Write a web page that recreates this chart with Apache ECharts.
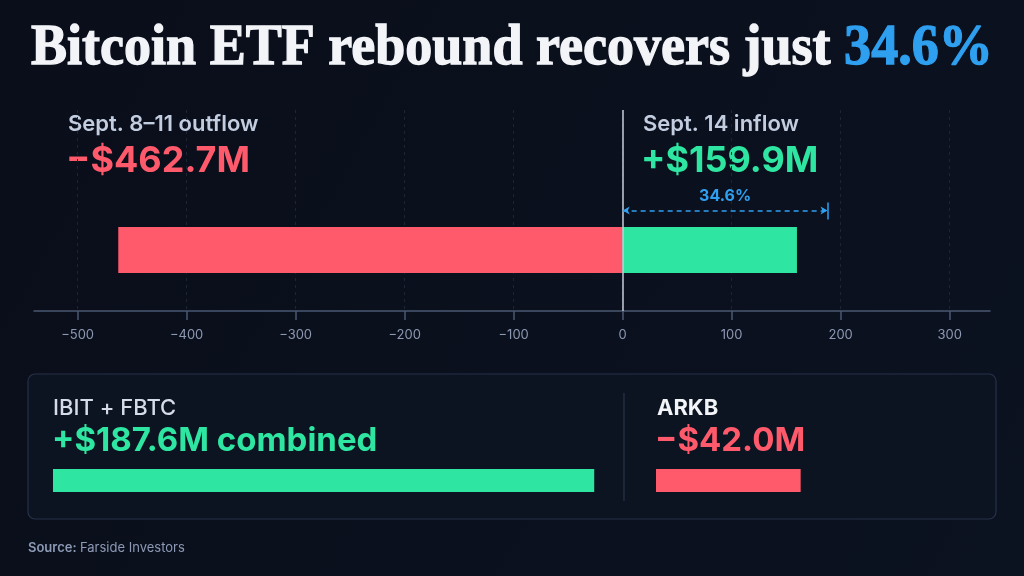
<!DOCTYPE html>
<html>
<head>
<meta charset="utf-8">
<script src="https://cdn.jsdelivr.net/npm/echarts@6/dist/echarts.min.js"></script>
<style>
html, body { margin: 0; padding: 0; background: #0a0f1b; }
#chart { width: 1024px; height: 576px; }
</style>
</head>
<body>
<div id="chart"></div>
<script>
// values
var flowLabels = ['Sept. 8–11 outflow', 'Sept. 14 inflow'];
var flowValues = [-462.7, 159.9];
var recoveryPct = 34.6;
var recoveryMark = 188;
var axisTicks = [-500, -400, -300, -200, -100, 0, 100, 200, 300];
var fundLabels = ['IBIT + FBTC', 'ARKB'];
var fundValues = [187.6, -42.0];
var fundNotes = [' combined', ''];
var source = 'Farside Investors';

var RED = '#ff5a6c';
var GREEN = '#2ee6a1';
var BLUE = '#2f9ff0';
var SANS = 'Inter, "Noto Sans", sans-serif';
var SERIF = 'bold 56px "Liberation Serif", "DejaVu Serif", serif';

function money(v) {
    var s = v < 0 ? '\u2212' : '+';
    return s + '$' + Math.abs(v).toFixed(1) + 'M';
}

var dom = document.getElementById('chart');
var myChart = echarts.init(dom);

var option = {
    backgroundColor: {
        type: 'linear', x: 0, y: 0, x2: 1, y2: 1,
        colorStops: [{ offset: 0, color: '#0a0e1a' }, { offset: 1, color: '#0b1220' }]
    },
    animation: false,
    grid: [
        { left: 34, right: 34, top: 110, bottom: 265 },   // axis + annotations
        { left: 34, right: 34, top: 227, height: 46 },    // main bars
        { left: 53, top: 469, height: 23, width: 577 },   // IBIT + FBTC
        { left: 656, top: 469, height: 23, width: 310 }   // ARKB
    ],
    xAxis: [
        {
            gridIndex: 0, type: 'value', min: -540, max: 337,
            axisLine: { show: true, lineStyle: { color: '#4a5872', width: 1.5 } },
            axisTick: { show: true, customValues: axisTicks, length: 9, lineStyle: { color: '#4a5872', width: 1.5 } },
            axisLabel: {
                customValues: axisTicks, margin: 18, color: '#8d99b2', fontSize: 13, fontFamily: SANS,
                formatter: function (v) { return String(v).replace('-', '\u2212'); }
            },
            splitLine: { show: true, lineStyle: { color: '#1c2436', type: [3, 4], width: 1 } }
        },
        { gridIndex: 1, type: 'value', min: -540, max: 337, show: false },
        { gridIndex: 2, type: 'value', min: 0, max: 200, show: false },
        { gridIndex: 3, type: 'value', min: 0, max: 90, show: false }
    ],
    yAxis: [
        { gridIndex: 0, type: 'value', min: 0, max: 1, show: false },
        { gridIndex: 1, type: 'category', data: ['Sept. flows'], show: false },
        { gridIndex: 2, type: 'category', data: [fundLabels[0]], show: false },
        { gridIndex: 3, type: 'category', data: [fundLabels[1]], show: false }
    ],
    series: [
        {
            type: 'bar', xAxisIndex: 1, yAxisIndex: 1, barWidth: 46, barGap: '-100%', z: 2,
            itemStyle: { color: RED },
            data: [flowValues[0]]
        },
        {
            type: 'bar', xAxisIndex: 1, yAxisIndex: 1, barWidth: 46, barGap: '-100%', z: 2,
            itemStyle: { color: GREEN },
            data: [flowValues[1]]
        },
        {
            type: 'line', xAxisIndex: 0, yAxisIndex: 0, z: 10, showSymbol: false,
            data: [],
            markLine: {
                silent: true,
                animation: false,
                symbol: ['none', 'none'],
                data: [
                    {
                        xAxis: 0,
                        lineStyle: { color: '#c9ced8', width: 1.5, type: 'solid' },
                        label: { show: false }
                    },
                    [
                        {
                            coord: [0, 0.5], symbol: 'arrow', symbolSize: [6, 7],
                            lineStyle: { color: BLUE, width: 1.5, type: [5, 4] },
                            label: {
                                show: true, position: 'middle', formatter: recoveryPct.toFixed(1) + '%',
                                color: BLUE, fontSize: 16, fontWeight: 'bold', fontFamily: SANS, distance: 6
                            }
                        },
                        { coord: [recoveryMark, 0.5], symbol: 'arrow', symbolSize: [6, 7] }
                    ],
                    [
                        {
                            coord: [recoveryMark, 0.455],
                            lineStyle: { color: BLUE, width: 1.5, type: 'solid' },
                            label: { show: false }
                        },
                        { coord: [recoveryMark, 0.54] }
                    ]
                ]
            }
        },
        {
            type: 'bar', xAxisIndex: 2, yAxisIndex: 2, barWidth: 23,
            itemStyle: { color: GREEN },
            data: [fundValues[0]]
        },
        {
            type: 'bar', xAxisIndex: 3, yAxisIndex: 3, barWidth: 23,
            itemStyle: { color: RED },
            data: [Math.abs(fundValues[1])]
        }
    ],
    graphic: [
        {
            type: 'text', x: 31, y: 22, scaleX: 0.965, z: 100,
            style: {
                text: '{w|Bitcoin ETF rebound recovers just }{b|' + recoveryPct.toFixed(1) + '%}',
                verticalAlign: 'top',
                rich: {
                    w: { fill: '#f2f4f8', stroke: '#f2f4f8', lineWidth: 1.3, font: SERIF },
                    b: { fill: BLUE, stroke: BLUE, lineWidth: 1.3, font: SERIF }
                }
            }
        },
        { type: 'text', x: 68, y: 124, style: { text: flowLabels[0], fill: '#c3cde0', font: '600 22px ' + SANS, verticalAlign: 'middle' } },
        { type: 'text', x: 66, y: 161, style: { text: money(flowValues[0]), fill: RED, font: 'bold 36px ' + SANS, verticalAlign: 'middle' } },
        { type: 'text', x: 643, y: 124, style: { text: flowLabels[1], fill: '#c3cde0', font: '600 22px ' + SANS, verticalAlign: 'middle' } },
        { type: 'text', x: 641, y: 161, style: { text: money(flowValues[1]), fill: GREEN, font: 'bold 36px ' + SANS, verticalAlign: 'middle' } },
        {
            type: 'rect', z: -1,
            shape: { x: 28, y: 374, width: 968, height: 145, r: 7 },
            style: { fill: '#0c1321', stroke: '#26324a', lineWidth: 1.2 }
        },
        { type: 'line', shape: { x1: 624, y1: 393, x2: 624, y2: 501 }, style: { stroke: '#2a354b', lineWidth: 1.2 } },
        { type: 'text', x: 53, y: 408, style: { text: fundLabels[0], fill: '#d5dbe7', font: '500 22px ' + SANS, verticalAlign: 'middle' } },
        { type: 'text', x: 52, y: 441, style: { text: money(fundValues[0]) + fundNotes[0], fill: GREEN, font: 'bold 33px ' + SANS, verticalAlign: 'middle' } },
        { type: 'text', x: 657, y: 408, style: { text: fundLabels[1], fill: '#f2f4f8', font: 'bold 22px ' + SANS, verticalAlign: 'middle' } },
        { type: 'text', x: 655, y: 441, style: { text: money(fundValues[1]) + fundNotes[1], fill: RED, font: 'bold 33px ' + SANS, verticalAlign: 'middle' } },
        {
            type: 'text', x: 28, y: 548,
            style: {
                text: '{a|Source:} {b|' + source + '}', verticalAlign: 'middle',
                rich: {
                    a: { fill: '#8d9ab5', font: '600 13px ' + SANS },
                    b: { fill: '#8d9ab5', font: '400 13px ' + SANS }
                }
            }
        }
    ]
};

if (option && typeof option === 'object') {
    myChart.setOption(option, true);
}
</script>
</body>
</html>
